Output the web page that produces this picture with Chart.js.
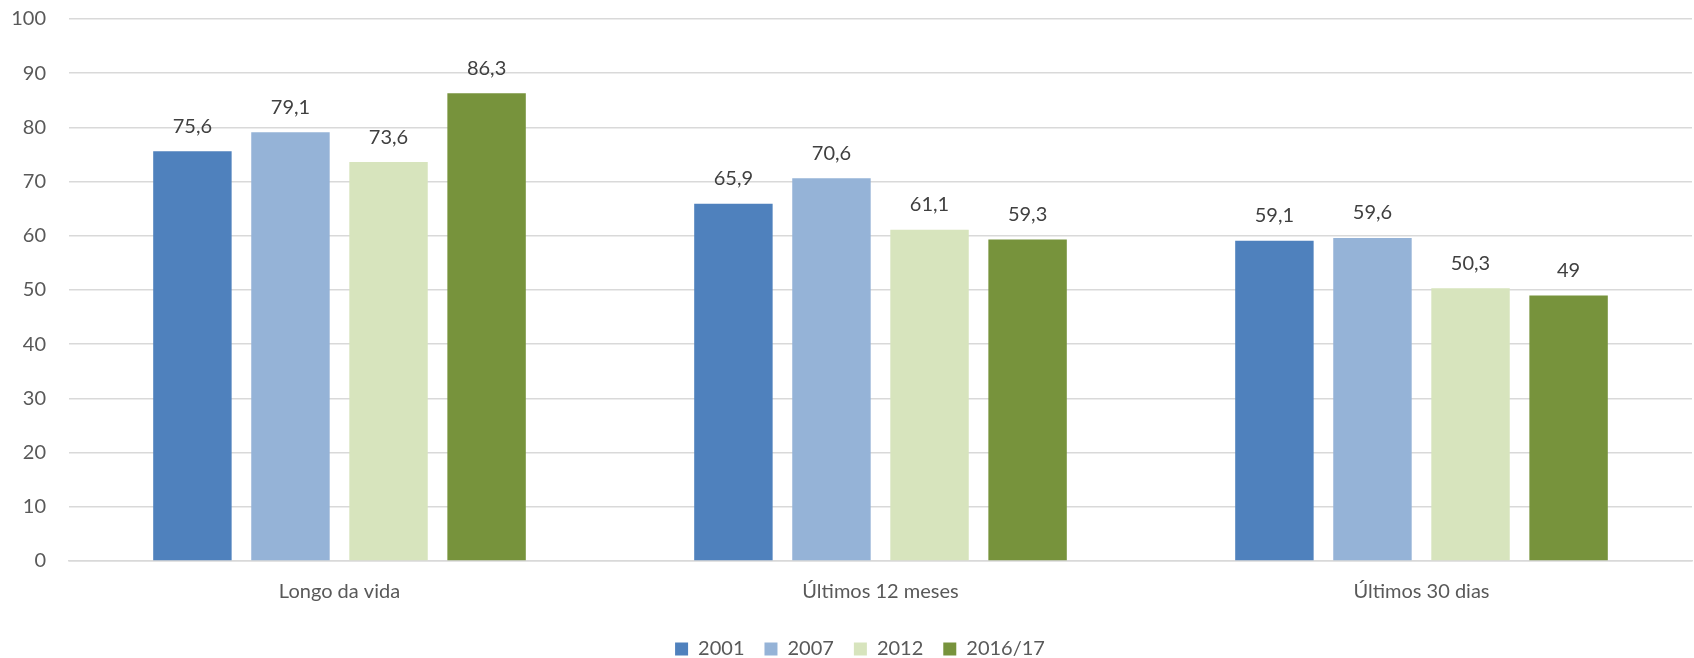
<!DOCTYPE html>
<html lang="pt">
<head>
  <meta charset="UTF-8">
  <title>Prevalência</title>
  <style>
    body { margin: 0; padding: 0; background: #fff; }
    .chart-container { width: 1694px; height: 658px; }
  </style>
</head>
<body>
<div class="chart-container">
  <canvas id="barChart"></canvas>
</div>
<script src="https://cdn.jsdelivr.net/npm/chart.js"></script>
<script>
  const categories = ['Longo da vida', 'Últimos 12 meses', 'Últimos 30 dias'];
  const years = ['2001', '2007', '2012', '2016/17'];
  const v2001 = [75.6, 65.9, 59.1];
  const v2007 = [79.1, 70.6, 59.6];
  const v2012 = [73.6, 61.1, 50.3];
  const v2016 = [86.3, 59.3, 49];
  const colors = ['#4F81BD', '#95B3D7', '#D7E4BD', '#77933C'];
  const FONT = 'Lato, "Open Sans", sans-serif';

  // rótulos de valor acima das barras (vírgula decimal)
  const valueLabels = {
    id: 'valueLabels',
    afterDatasetsDraw(chart) {
      const ctx = chart.ctx;
      ctx.save();
      ctx.font = '20px ' + FONT;
      ctx.fillStyle = '#404040';
      ctx.textAlign = 'center';
      ctx.textBaseline = 'bottom';
      chart.data.datasets.forEach((ds, i) => {
        chart.getDatasetMeta(i).data.forEach((bar, j) => {
          const txt = String(ds.data[j]).replace('.', ',');
          ctx.fillText(txt, bar.x, bar.y - 15);
        });
      });
      ctx.restore();
    }
  };

  // desloca a legenda (posição como no original)
  const legendShift = {
    id: 'legendShift',
    afterLayout(chart) {
      const lg = chart.legend;
      if (!lg) return;
      lg.left += 14; lg.right += 14;
      lg.top -= 4; lg.bottom -= 4;
    }
  };

  const series = [v2001, v2007, v2012, v2016];
  new Chart(document.getElementById('barChart'), {
    type: 'bar',
    data: {
      labels: categories,
      datasets: series.map((d, i) => ({
        label: years[i],
        data: d,
        backgroundColor: colors[i],
        barPercentage: 0.8,
        categoryPercentage: 0.725
      }))
    },
    options: {
      responsive: true,
      maintainAspectRatio: false,
      animation: false,
      layout: { padding: { top: 19, right: 2, left: 0, bottom: -15 } },
      scales: {
        x: {
          grid: { display: false, drawTicks: false },
          border: { color: '#D9D9D9', width: 1.5 },
          ticks: { color: '#595959', font: { size: 20, family: FONT }, padding: 19 }
        },
        y: {
          min: 0, max: 100,
          afterFit(scale) { scale.width = 69; scale.paddingTop = 0; },
          grid: { color: '#D9D9D9', lineWidth: 1.5, drawTicks: false },
          border: { display: false },
          ticks: { stepSize: 10, color: '#595959', font: { size: 20, family: FONT }, padding: 23 }
        }
      },
      plugins: {
        legend: {
          position: 'bottom',
          labels: {
            boxWidth: 13, boxHeight: 13, padding: 20,
            color: '#595959',
            font: { size: 20, family: FONT }
          }
        },
        tooltip: { enabled: false }
      }
    },
    plugins: [valueLabels, legendShift]
  });
</script>
</body>
</html>
